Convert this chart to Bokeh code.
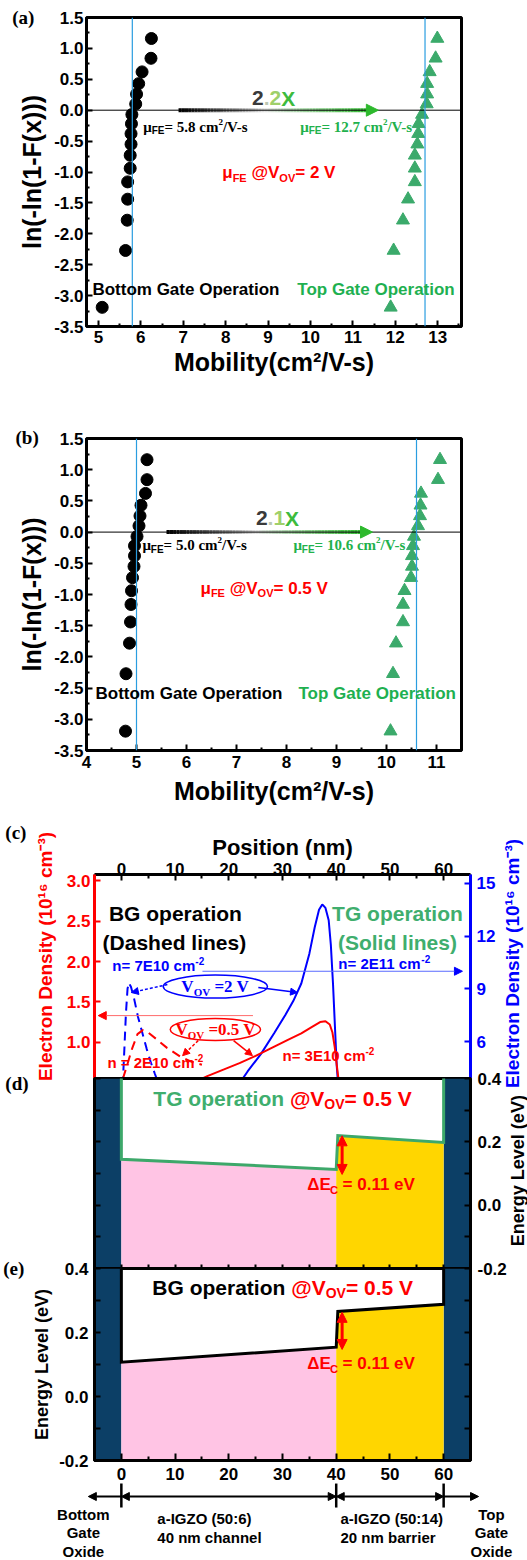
import math
from bokeh.plotting import figure
from bokeh.layouts import column
from bokeh.models import (Range1d, LinearAxis, FixedTicker, PrintfTickFormatter,
                          Label, Span, Arrow, NormalHead)
from bokeh.embed import file_html
from bokeh.resources import INLINE

# ---------------- data ----------------
weibull_y = [-3.19, -2.27, -1.78, -1.44, -1.16, -0.94, -0.73, -0.55, -0.38, -0.22,
             -0.07, 0.10, 0.26, 0.43, 0.62, 0.84, 1.16]
weibull_ticks = [-3.5, -3.0, -2.5, -2.0, -1.5, -1.0, -0.5, 0.0, 0.5, 1.0, 1.5]

a_bottom_mu = [5.09, 5.64, 5.68, 5.69, 5.69, 5.75, 5.75, 5.77, 5.77, 5.78, 5.79,
               5.88, 5.90, 5.95, 6.03, 6.24, 6.25]
a_top_mu = [11.89, 11.96, 12.18, 12.30, 12.46, 12.46, 12.46, 12.52, 12.54, 12.55, 12.63,
            12.74, 12.75, 12.75, 12.81, 12.95, 12.99]
a_mu_fe = [5.8, 12.7]
a_xticks = [5, 6, 7, 8, 9, 10, 11, 12, 13]

b_bottom_mu = [4.78, 4.79, 4.86, 4.88, 4.89, 4.90, 4.92, 4.95, 4.96, 4.96, 5.01,
               5.05, 5.07, 5.09, 5.18, 5.21, 5.21]
b_top_mu = [10.08, 10.13, 10.19, 10.33, 10.33, 10.36, 10.49, 10.51, 10.51, 10.53, 10.55,
            10.63, 10.67, 10.68, 10.69, 11.03, 11.07]
b_mu_fe = [5.0, 10.6]
b_xticks = [4, 5, 6, 7, 8, 9, 10, 11]

# (c) electron density profiles  (position nm, density 1e16 cm^-3)
c_pos_tg_2v = [21.5, 23.5, 26.0, 28.5, 30.5, 32.0, 33.5, 35.0, 36.0, 36.8, 37.4, 38.0,
               38.6, 39.0, 39.4, 39.8, 40.1, 40.4]
c_n_tg_2v = [3.4, 4.3, 5.3, 6.5, 7.5, 8.3, 9.3, 11.0, 12.5, 13.5, 13.8, 13.6,
             12.9, 11.5, 9.3, 6.6, 4.6, 3.4]
c_pos_bg_2v = [0.25, 0.55, 0.85, 1.15, 1.4, 1.8, 2.4, 3.1, 3.9, 4.7, 5.5, 6.2, 6.8]
c_n_bg_2v = [3.5, 5.5, 7.6, 9.0, 9.35, 9.1, 8.4, 7.4, 6.5, 5.6, 4.8, 4.2, 3.7]
c_pos_tg_05v = [13.5, 16, 19, 22, 25, 28, 31, 33.5, 35.5, 37.0, 38.0, 38.8, 39.3, 39.7,
                40.1, 40.5]
c_n_tg_05v = [0.50, 0.58, 0.66, 0.74, 0.83, 0.93, 1.03, 1.11, 1.19, 1.25, 1.26, 1.22,
              1.12, 0.95, 0.72, 0.50]
c_pos_bg_05v = [0.3, 1.0, 2.0, 3.0, 4.0, 5.0, 6.5, 8.5, 11.0, 13.0, 15.0]
c_n_bg_05v = [0.55, 0.70, 0.92, 1.10, 1.15, 1.12, 1.04, 0.93, 0.82, 0.76, 0.72]
c_red_ticks = [1.0, 1.5, 2.0, 2.5, 3.0]
c_blue_ticks = [6, 9, 12, 15]

# (d)/(e) conduction band edges
layer_edges = [-5, 0, 40, 60, 65]
band_pos = [0, 40, 40.3, 60]
tg_band = [0.145, 0.113, 0.220, 0.198]
bg_band = [0.107, 0.154, 0.266, 0.288]
energy_ticks = [-0.2, 0.0, 0.2, 0.4]
energy_minor = [-0.1, 0.1, 0.3]
energy_all = [-0.2, -0.1, 0.0, 0.1, 0.2, 0.3, 0.4]
pos_ticks = [0, 10, 20, 30, 40, 50, 60]
pos_minor = [-5, 5, 15, 25, 35, 45, 55, 65]
delta_ec = 0.11

# ---------------- styling ----------------
SANS = "Liberation Sans"
SERIF = "Liberation Serif"
GREEN_MK = "#3BAA6B"
GREEN_TX = "#1EB050"
GREEN_OP = "#3FAE6E"
BLUE_V = "#2A9DE0"
RED = "#FF0000"
BLUE = "#0000FF"
NAVY = "#0C3F66"
PINK = "#FFC4E4"
YELLOW = "#FFD600"
W = 527

SANS_W = {' ': 278, '!': 333, '(': 333, ')': 333, '-': 333, '.': 278, '/': 278, ':': 333,
          '=': 584, '@': 975, 'A': 722, 'B': 722, 'C': 722, 'D': 722, 'E': 667, 'F': 611,
          'G': 778, 'I': 278, 'L': 611, 'O': 778, 'P': 667, 'S': 667, 'T': 611, 'V': 667,
          'X': 667, 'Z': 611, 'a': 556, 'b': 611, 'c': 556, 'd': 611, 'e': 556, 'g': 611,
          'h': 611, 'i': 278, 'l': 278, 'm': 889, 'n': 611, 'o': 611, 'p': 611, 'r': 389,
          's': 556, 't': 333, 'v': 556, 'x': 556, 'y': 556, 'μ': 611, 'Δ': 667}
SERIF_W = {' ': 250, '(': 333, ')': 333, '-': 333, '.': 250, '/': 278, '=': 570,
           'V': 722, 'O': 778, 'E': 667, 'F': 611, 'c': 444, 'm': 833, 's': 389,
           'μ': 556, 'a': 500, 'b': 556, 'e': 444, 'd': 556}


def tw(text, fam, size):
    table = SANS_W if fam == SANS else SERIF_W
    dflt = 556 if fam == SANS else 500
    return sum(table.get(ch, dflt) for ch in text) * size / 1000.0


def rich(p, x, y, pieces, align="left", yr=None):
    total = sum(tw(t, f, s) for (t, f, s, c, dy) in pieces)
    off = -total / 2.0 if align == "center" else 0.0
    for (t, f, s, c, dy) in pieces:
        stripped = t.lstrip(" ")
        off += tw(" " * (len(t) - len(stripped)), f, s)
        kw = dict(x=x, y=y, x_offset=off, y_offset=dy, text=stripped, text_font=f,
                  text_font_size=f"{s}px", text_font_style="bold", text_color=c,
                  text_align="left", text_baseline="middle")
        if yr:
            kw["y_range_name"] = yr
        p.add_layout(Label(**kw))
        off += tw(stripped, f, s)


def label(p, x, y, text, size=17, color="black", font=SANS, align="left", angle=0.0):
    p.add_layout(Label(x=x, y=y, text=text, text_font=font, text_font_size=f"{size}px",
                       text_font_style="bold", text_color=color, text_align=align,
                       text_baseline="middle", angle=angle))


def style_axis(ax, size=17, color="black", standoff=5, tick_in=6, minor_in=3, show_labels=True):
    ax.axis_line_width = 3
    ax.axis_line_color = color
    ax.major_tick_in = tick_in
    ax.major_tick_out = 0
    ax.minor_tick_in = minor_in
    ax.minor_tick_out = 0
    ax.major_tick_line_width = 2
    ax.minor_tick_line_width = 2
    ax.major_tick_line_color = color
    ax.minor_tick_line_color = color
    ax.major_label_text_font = SANS
    ax.major_label_text_font_size = f"{size}px"
    ax.major_label_text_font_style = "bold"
    ax.major_label_text_color = color if show_labels else None
    ax.major_label_standoff = standoff
    ax.axis_label_text_font = SANS
    ax.axis_label_text_font_style = "bold"
    ax.axis_label_text_color = color


def grad_color(t):
    stops = [(0.0, (0, 0, 0)), (0.45, (225, 225, 225)), (1.0, (45, 185, 45))]
    for (t0, c0), (t1, c1) in zip(stops[:-1], stops[1:]):
        if t <= t1:
            f = (t - t0) / (t1 - t0)
            return "#%02x%02x%02x" % tuple(int(round(a + (b - a) * f)) for a, b in zip(c0, c1))
    return "#%02x%02x%02x" % stops[-1][1]


def grad_arrow(p, x0, x1, head_len):
    n = 60
    xe = x1 - head_len
    xs = [x0 + (xe - x0) * i / n for i in range(n + 1)]
    cols = [grad_color(i / (n - 1)) for i in range(n)]
    p.segment(x0=xs[:-1], y0=[0.0] * n, x1=xs[1:], y1=[0.0] * n, line_color=cols, line_width=4)
    p.add_layout(Arrow(x_start=xe - 0.02, y_start=0, x_end=x1, y_end=0, line_alpha=0,
                       end=NormalHead(size=12, fill_color="#2DB92D", line_color="#2DB92D")))


def base_fig(h, xr, yr, ml, mr, mt, mb, **kw):
    p = figure(width=W, height=h, x_range=xr, y_range=yr, output_backend="svg",
               toolbar_location=None, title=None, min_border_left=ml, min_border_right=mr,
               min_border_top=mt, min_border_bottom=mb, frame_align=False, **kw)
    p.xgrid.visible = False
    p.ygrid.visible = False
    p.outline_line_color = "black"
    p.outline_line_width = 3
    return p


def overlay(panel, h, extra=0):
    """Transparent full-canvas layer that uses the same data scales as `panel`,
    so that texts lying outside the panel's frame are not clipped."""
    L = panel.min_border_left
    R = W - panel.min_border_right
    T = panel.min_border_top
    B = h - panel.min_border_bottom
    x0, x1 = panel.x_range.start, panel.x_range.end
    y0, y1 = panel.y_range.start, panel.y_range.end
    sx = (x1 - x0) / (R - L)
    sy = (y1 - y0) / (B - T)
    o = figure(width=W, height=h + extra,
               x_range=Range1d(x0 - L * sx, x1 + (W - R) * sx),
               y_range=Range1d(y0 - (h + extra - B) * sy, y1 + T * sy),
               output_backend="svg", toolbar_location=None, title=None,
               x_axis_type=None, y_axis_type=None, min_border=0, frame_align=False,
               margin=(-h, 0, 0, 0))
    o.outline_line_color = None
    o.background_fill_color = None
    o.border_fill_color = None
    return o


def weibull_panel(h, mt, mb, xr, xticks, bottom_mu, top_mu, mu_fe, x_std, lab_std):
    p = base_fig(h, Range1d(*xr), Range1d(-3.5, 1.5), 86, 66, mt, mb)
    style_axis(p.xaxis[0], standoff=x_std)
    p.xaxis.ticker = FixedTicker(ticks=xticks, minor_ticks=[t + 0.5 for t in xticks])
    p.xaxis.axis_label = "Mobility(cm²/V-s)"
    p.xaxis.axis_label_text_font_size = "25px"
    p.xaxis.axis_label_standoff = lab_std
    style_axis(p.yaxis[0], standoff=3)
    p.yaxis.ticker = FixedTicker(ticks=weibull_ticks,
                                 minor_ticks=[t + 0.25 for t in weibull_ticks[:-1]])
    p.yaxis.formatter = PrintfTickFormatter(format="%.1f")
    p.yaxis.axis_label = "ln(-ln(1-F(x)))"
    p.yaxis.axis_label_text_font_size = "25px"
    p.yaxis.axis_label_standoff = 5
    p.add_layout(Span(location=0, dimension="width", line_color="black", line_width=1))
    for v in mu_fe:
        p.add_layout(Span(location=v, dimension="height", line_color=BLUE_V, line_width=1.2))
    p.scatter(bottom_mu, weibull_y, marker="circle", size=12, fill_color="black",
              line_color="black")
    p.scatter(top_mu, weibull_y, marker="triangle", size=13, fill_color=GREEN_MK,
              line_color=GREEN_MK)
    return p


def mu_text(p, x, y, value, color):
    rich(p, x, y, [("μ", SERIF, 15, color, 0), ("FE", SANS, 10, color, -4),
                   (f"= {value} cm", SERIF, 15, color, 0), ("2", SERIF, 9, color, 5),
                   ("/V-s", SERIF, 15, color, 0)])


def vov_text(p, x, y, value):
    rich(p, x, y, [("μ", SANS, 17, RED, 0), ("FE", SANS, 11, RED, -5),
                   (" @V", SANS, 17, RED, 0), ("OV", SANS, 11, RED, -5),
                   (f"= {value} V", SANS, 17, RED, 0)])


def factor_text(p, x, y, second):
    rich(p, x, y, [("2", SANS, 21, "#3a3a3a", 0), (".", SANS, 21, "#bcc7b2", 0),
                   (second, SANS, 21, "#9fd06a", 0), ("X", SANS, 21, "#3dbb3d", 0)],
         align="center")


# ---------------- (a) ----------------
HA = 381
fa = weibull_panel(HA, 17, 55, (4.72, 13.56), a_xticks, a_bottom_mu, a_top_mu, a_mu_fe, 4, 2)
grad_arrow(fa, 6.89, 11.6, 0.2)
factor_text(fa, 9.13, 0.19, "2")
mu_text(fa, 6.06, -0.264, "5.8", "black")
mu_text(fa, 9.76, -0.264, "12.7", "#22B14C")
vov_text(fa, 7.92, -1.01, "2")
label(fa, 4.86, -2.90, "Bottom Gate Operation", size=17)
label(fa, 9.69, -2.90, "Top Gate Operation", size=17, color=GREEN_TX)
ta = overlay(fa, HA)
label(ta, 2.97, 1.5, "(a)", size=19, font=SERIF)

# ---------------- (b) ----------------
HB = 429
fb = weibull_panel(HB, 57, 60, (4.0, 11.5), b_xticks, b_bottom_mu, b_top_mu, b_mu_fe, 5, 6)
grad_arrow(fb, 5.6, 9.72, 0.17)
factor_text(fb, 7.82, 0.224, "1")
mu_text(fb, 5.12, -0.208, "5.0", "black")
mu_text(fb, 8.14, -0.208, "10.6", "#22B14C")
vov_text(fb, 6.28, -0.897, "0.5")
label(fb, 4.18, -2.58, "Bottom Gate Operation", size=17)
label(fb, 8.24, -2.58, "Top Gate Operation", size=17, color=GREEN_TX)
tb = overlay(fb, HB)
label(tb, 2.58, 1.52, "(b)", size=19, font=SERIF)

# ---------------- (c) ----------------
HC = 268
EXTRA_C = 20
fc = base_fig(HC, Range1d(-5, 65), Range1d(0.55, 3.08), 94, 57, 64, 0,
              x_axis_location="above")
fc.outline_line_color = None
fc.extra_y_ranges = {"blue": Range1d(3.9, 15.5)}
style_axis(fc.xaxis[0], standoff=0, tick_in=6, minor_in=4)
fc.xaxis.ticker = FixedTicker(ticks=pos_ticks, minor_ticks=pos_minor)
fc.xaxis.axis_label = "Position (nm)"
fc.xaxis.axis_label_text_font_size = "22px"
fc.xaxis.axis_label_standoff = 0
style_axis(fc.yaxis[0], color=RED, standoff=4)
fc.yaxis.ticker = FixedTicker(ticks=c_red_ticks)
fc.yaxis.formatter = PrintfTickFormatter(format="%.1f")
ax_blue = LinearAxis(y_range_name="blue", ticker=FixedTicker(ticks=c_blue_ticks))
style_axis(ax_blue, color=BLUE, standoff=6)
fc.add_layout(ax_blue, "right")

fc.line(c_pos_tg_2v, c_n_tg_2v, y_range_name="blue", line_color=BLUE, line_width=2)
fc.line(c_pos_bg_2v, c_n_bg_2v, y_range_name="blue", line_color=BLUE, line_width=2,
        line_dash="9 6")
fc.line(c_pos_tg_05v, c_n_tg_05v, line_color=RED, line_width=2)
fc.line(c_pos_bg_05v, c_n_bg_05v, line_color=RED, line_width=2, line_dash="9 6")

label(fc, 10.06, 2.596, "BG operation", size=21, align="center")
label(fc, 9.87, 2.236, "(Dashed lines)", size=21, align="center")
label(fc, 51.4, 2.596, "TG operation", size=21, color=GREEN_OP, align="center")
label(fc, 51.4, 2.236, "(Solid lines)", size=21, color=GREEN_OP, align="center")
rich(fc, -1.68, 1.951, [("n= 7E10 cm", SANS, 15, BLUE, 0), ("-2", SANS, 10, BLUE, 5)])
rich(fc, 40.4, 1.976, [("n= 2E11 cm", SANS, 15, BLUE, 0), ("-2", SANS, 10, BLUE, 5)])
rich(fc, -2.6, 0.747, [("n = 2E10 cm", SANS, 15, RED, 0), ("-2", SANS, 10, RED, 5)])
rich(fc, 30.0, 0.834, [("n= 3E10 cm", SANS, 15, RED, 0), ("-2", SANS, 10, RED, 5)])
fc.add_layout(Arrow(x_start=15.1, y_start=1.88, x_end=63.5, y_end=1.88, line_color="#5A6BFF",
                    line_width=1, end=NormalHead(size=8, fill_color=BLUE, line_color=BLUE)))
fc.add_layout(Arrow(x_start=24.5, y_start=1.33, x_end=-4.3, y_end=1.33, line_color="#FF6A6A",
                    line_width=1, end=NormalHead(size=8, fill_color=RED, line_color=RED)))
fc.ellipse(x=[17.5], y=[1.69], width=19.4, height=0.285, fill_color=None,
           line_color=BLUE, line_width=1.5)
fc.ellipse(x=[17.5], y=[1.157], width=16.8, height=0.273, fill_color=None,
           line_color=RED, line_width=1.5)
rich(fc, 11.17, 1.69, [("V", SERIF, 17, BLUE, 0), ("OV", SERIF, 11, BLUE, -5),
                       (" =2 V", SERIF, 17, BLUE, 0)])
rich(fc, 10.06, 1.157, [("V", SERIF, 17, RED, 0), ("OV", SERIF, 11, RED, -5),
                        (" =0.5 V", SERIF, 17, RED, 0)])
fc.add_layout(Arrow(x_start=8.57, y_start=1.715, x_end=1.86, y_end=1.616, line_color=BLUE,
                    line_width=1.5, line_dash="3 2",
                    end=NormalHead(size=7, fill_color=BLUE, line_color=BLUE)))
fc.add_layout(Arrow(x_start=25.5, y_start=1.678, x_end=32.8, y_end=1.616, line_color=BLUE,
                    line_width=1.5, end=NormalHead(size=7, fill_color=BLUE, line_color=BLUE)))
fc.add_layout(Arrow(x_start=14.3, y_start=1.02, x_end=11.4, y_end=0.833, line_color=RED,
                    line_width=1.5, line_dash="3 2",
                    end=NormalHead(size=7, fill_color=RED, line_color=RED)))
fc.add_layout(Arrow(x_start=20.9, y_start=1.02, x_end=24.4, y_end=0.834, line_color=RED,
                    line_width=1.5, end=NormalHead(size=7, fill_color=RED, line_color=RED)))
tc = overlay(fc, HC, EXTRA_C)
label(tc, -21.6, 3.60, "(c)", size=19, font=SERIF)
label(tc, -14.15, 2.063, "Electron Density (10¹⁶ cm⁻³)", size=19, color=RED,
      align="center", angle=math.pi / 2)
label(tc, 72.8, 1.976, "Electron Density (10¹⁶ cm⁻³)", size=19, color=BLUE,
      align="center", angle=math.pi / 2)


# ---------------- (d) and (e) band diagrams ----------------
def band_panel(h, mt, mb, band, line_color, margin_top, label_side):
    p = base_fig(h, Range1d(-5, 65), Range1d(-0.2, 0.4), 94, 57, mt, mb,
                 y_axis_location=label_side, margin=(margin_top, 0, 0, 0))
    p.border_fill_color = None
    lo, hi = -0.2, 0.4
    p.quad(left=[layer_edges[0], layer_edges[3]], right=[layer_edges[1], layer_edges[4]],
           bottom=lo, top=hi, fill_color=NAVY, line_color=None)
    p.varea(x=band_pos[:2], y1=[lo, lo], y2=band[:2], fill_color=PINK)
    p.varea(x=band_pos[1:], y1=[lo] * 3, y2=band[1:], fill_color=YELLOW)
    p.line([band_pos[0]] + band_pos + [band_pos[-1]], [hi + 0.05] + band + [hi + 0.05],
           line_color=line_color, line_width=3, line_join="miter")
    ax = p.yaxis[0]
    style_axis(ax, standoff=7 if label_side == "right" else 6, tick_in=6, minor_in=6)
    ax.ticker = FixedTicker(ticks=energy_ticks, minor_ticks=energy_minor)
    ax.formatter = PrintfTickFormatter(format="%.1f")
    other = LinearAxis(ticker=FixedTicker(ticks=energy_all))
    style_axis(other, tick_in=6, show_labels=False)
    p.add_layout(other, "left" if label_side == "right" else "right")
    return p


HD = 210
fd = band_panel(HD, 10, 10, tg_band, "#3DA86A", -(10 + EXTRA_C), "right")
style_axis(fd.xaxis[0], tick_in=4, minor_in=4, show_labels=False)
fd.xaxis.ticker = FixedTicker(ticks=pos_ticks + pos_minor)
rich(fd, 5.96, 0.337, [("TG operation ", SANS, 21, GREEN_OP, 0), ("@V", SANS, 21, RED, 0),
                       ("OV", SANS, 14, RED, -6), ("= 0.5 V", SANS, 21, RED, 0)])
fd.add_layout(Arrow(x_start=41.1, y_start=tg_band[1] - 0.016, x_end=41.1,
                    y_end=tg_band[1] - 0.016 + delta_ec + 0.012, line_color=RED, line_width=3,
                    start=NormalHead(size=10, fill_color=RED, line_color=RED),
                    end=NormalHead(size=10, fill_color=RED, line_color=RED)))
rich(fd, 34.6, 0.065, [("ΔE", SANS, 17, RED, 0), ("C", SANS, 11, RED, -5),
                       (" = 0.11 eV", SANS, 17, RED, 0)])
td = overlay(fd, HD)
label(td, -21.6, 0.384, "(d)", size=19, font=SERIF)
label(td, 73.9, 0.109, "Energy Level (eV)", size=18, align="center", angle=math.pi / 2)

HE = 302
fe = band_panel(HE, 10, 100, bg_band, "black", -20, "left")
style_axis(fe.xaxis[0], standoff=7, tick_in=7, minor_in=4)
fe.xaxis.ticker = FixedTicker(ticks=pos_ticks, minor_ticks=pos_minor)
fe.yaxis[0].axis_label = "Energy Level (eV)"
fe.yaxis[0].axis_label_text_font_size = "18px"
fe.yaxis[0].axis_label_standoff = 4
rich(fe, 5.77, 0.341, [("BG operation ", SANS, 21, "black", 0), ("@V", SANS, 21, RED, 0),
                       ("OV", SANS, 14, RED, -6), ("= 0.5 V", SANS, 21, RED, 0)])
fe.add_layout(Arrow(x_start=41.1, y_start=0.147, x_end=41.1, y_end=0.147 + delta_ec + 0.006,
                    line_color=RED, line_width=3,
                    start=NormalHead(size=10, fill_color=RED, line_color=RED),
                    end=NormalHead(size=10, fill_color=RED, line_color=RED)))
rich(fe, 34.6, 0.103, [("ΔE", SANS, 17, RED, 0), ("C", SANS, 11, RED, -5),
                       (" = 0.11 eV", SANS, 17, RED, 0)])

te = overlay(fe, HE)
label(te, -22.0, 0.40, "(e)", size=19, font=SERIF)
# layer scale below (e)
ya = -0.3125
for e in layer_edges[1:4]:
    te.add_layout(Arrow(x_start=e, y_start=-0.272, x_end=e, y_end=-0.347, end=None,
                        line_color="black", line_width=2.5))
arrow_spans = [(layer_edges[1], -6.15, False), (layer_edges[1], layer_edges[2], True),
               (layer_edges[2], layer_edges[3], True), (layer_edges[3], 66.5, False)]
for xs, xe, both in arrow_spans:
    te.add_layout(Arrow(x_start=xs, y_start=ya, x_end=xe, y_end=ya, line_color="black",
                        line_width=2,
                        start=NormalHead(size=8, fill_color="black") if both else None,
                        end=NormalHead(size=8, fill_color="black")))
for i, (t_left, t_right) in enumerate(zip(["Bottom", "Gate", "Oxide"], ["Top", "Gate", "Oxide"])):
    label(te, -7.08, -0.369 - 0.0575 * i, t_left, size=15, align="center")
    label(te, 68.9, -0.369 - 0.0575 * i, t_right, size=15, align="center")
label(te, 6.7, -0.381, "a-IGZO (50:6)", size=15)
label(te, 6.7, -0.441, "40 nm channel", size=15)
label(te, 40.8, -0.381, "a-IGZO (50:14)", size=15)
label(te, 40.8, -0.441, "20 nm barrier", size=15)

layout = column(fa, ta, fb, tb, fc, tc, fd, td, fe, te)
open("out.html", "w").write(file_html(layout, INLINE))
